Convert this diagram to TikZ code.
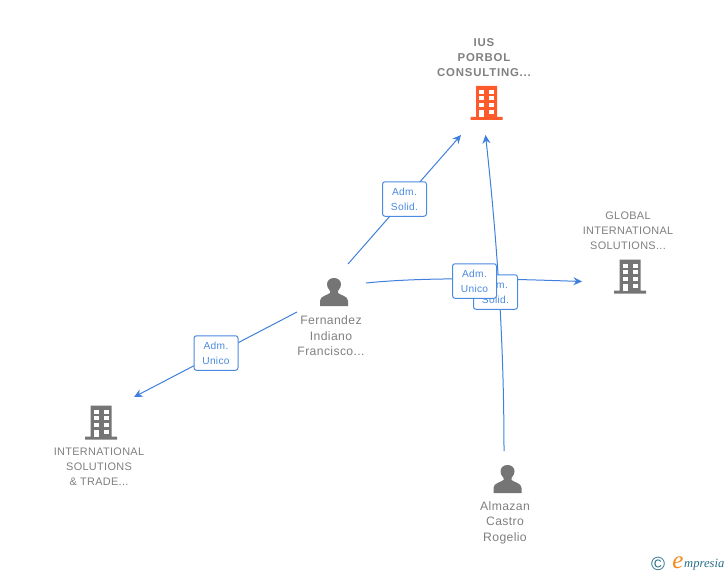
\documentclass[tikz,border=0pt]{standalone}
\usepackage{fontspec}
\setmainfont{Liberation Sans}
\newfontfamily\spacedfont[LetterSpace=3]{Liberation Sans}
\newfontfamily\widefont[LetterSpace=7]{Liberation Sans}
\newfontfamily\logofont{Liberation Serif}
\usetikzlibrary{arrows.meta}
\definecolor{linkblue}{HTML}{3F80DC}
\definecolor{badgeblue}{HTML}{4A8AE0}
\definecolor{gtext}{HTML}{808080}
\definecolor{gicon}{HTML}{757575}
\definecolor{hot}{HTML}{FF5A2C}
\definecolor{logoteal}{HTML}{2A6F8A}
\definecolor{logoorange}{HTML}{F58A1F}
\tikzset{
  x=1pt,y=-1pt,
  link/.style={draw=linkblue,line width=1pt,-{Stealth[length=8.5pt,width=8pt]}},
  badge/.style={draw=badgeblue,line width=1pt,rounded corners=2.5pt,fill=white,text=badgeblue,
    minimum width=44pt,minimum height=34.5pt,inner sep=0pt,align=center,
    font=\spacedfont\fontsize{10.2}{15}\selectfont},
  personlabel/.style={text=gtext,align=center,inner sep=0pt,font=\spacedfont\fontsize{12.2}{15.5}\selectfont},
  firmlabel/.style={text=gtext,align=center,inner sep=0pt,font=\spacedfont\fontsize{10.9}{15}\selectfont},
  firmbold/.style={text=gtext,align=center,inner sep=0pt,font=\widefont\fontsize{11.4}{15}\selectfont\bfseries},
  pics/tower/.style={code={
    \fill[#1] (-10.5,-17) rectangle (10.5,14) (-16,14) rectangle (16,17);
    \foreach \r in {-13,-6.5,0}{
      \fill[white] (-7.5,\r) rectangle (-2.5,\r+4);
      \fill[white] (2.5,\r) rectangle (7.5,\r+4);
    }
    \fill[white] (-7.5,7) rectangle (-2.5,14);
    \fill[white] (2.5,7) rectangle (7.5,11);
  }},
  pics/person/.style={code={
    \fill[gicon] (-14,13.5) -- (-14,8.5) .. controls (-14,3.5) and (-7,3) .. (-4,0.5)
      -- (-4,-1.5) .. controls (-6,-4) and (-7,-6) .. (-7,-8)
      .. controls (-7,-12) and (-4,-14.5) .. (0,-14.5)
      .. controls (4,-14.5) and (7,-12) .. (7,-8)
      .. controls (7,-6) and (6,-4) .. (4,-1.5)
      -- (4,0.5) .. controls (7,3) and (14,3.5) .. (14,8.5) -- (14,13.5) -- cycle;
  }},
}
\begin{document}
\begin{tikzpicture}
\useasboundingbox (0,0) rectangle (728,575);
\fill[white] (0,0) rectangle (728,575);

% icons
\node[inner sep=0pt,minimum size=34pt] (ius) at (486.5,103) {};
\pic at (486.5,103) {tower=hot};
\node[inner sep=0pt,minimum size=34pt] (glob) at (630,276.5) {};
\pic at (630,276.5) {tower=gicon};
\node[inner sep=0pt,minimum size=34pt] (intl) at (101,422.5) {};
\pic at (101,422.5) {tower=gicon};
\node[inner sep=0pt,minimum size=28pt] (fern) at (334,292.5) {};
\pic at (334,292.5) {person};
\node[inner sep=0pt,minimum size=28pt] (alma) at (507.5,479.5) {};
\pic at (507.5,479.5) {person};

% labels
\node[firmbold] (iuslab) at (484,57.6) {IUS\\PORBOL\\CONSULTING...};
\node[firmlabel] (globlab) at (628,230.6) {GLOBAL\\INTERNATIONAL\\SOLUTIONS...};
\node[firmlabel] (intllab) at (99,466.6) {INTERNATIONAL\\SOLUTIONS\\\& TRADE...};
\node[personlabel] (fernlab) at (331,335.8) {Fernandez\\Indiano\\Francisco...};
\node[personlabel] (almalab) at (505,522.8) {Almazan\\Castro\\Rogelio};

% connector ends
\coordinate (fernA) at (348,264);
\coordinate (iusA) at (461,135);
\coordinate (fernB) at (297,312);
\coordinate (intlA) at (134,397);
\coordinate (fernC) at (366,283);
\coordinate (globA) at (582,281.5);
\coordinate (almaA) at (504,451);
\coordinate (iusB) at (485.5,135);

% connectors
\draw[link] (fernA) -- (iusA);
\draw[link] (fernB) -- (intlA);
\draw[link] (fernC) .. controls (430,276.5) and (510,279) .. (globA);
\draw[link] (almaA) .. controls (504,340) and (497,240) .. (iusB);

% badges
\node[badge] (b1) at (404.5,199) {Adm.\\Solid.};
\node[badge] (b2) at (216,353) {Adm.\\Unico};
\node[badge] (b3) at (495.5,292) {Adm.\\Solid.};
\node[badge] (b4) at (474.5,281) {Adm.\\Unico};

% logo
\node[inner sep=0pt,text=logoteal,font=\fontsize{19}{19}\selectfont] (copy) at (658,563.5) {©};
\node[inner sep=0pt,text=logoorange,font=\logofont\itshape\fontsize{25}{25}\selectfont] (loge) at (678,562.5) {e};
\node[inner sep=0pt,anchor=west,text=logoteal,font=\logofont\itshape\fontsize{12.6}{14}\selectfont] (logt) at (684,564.5) {mpresia};
\end{tikzpicture}
\end{document}
